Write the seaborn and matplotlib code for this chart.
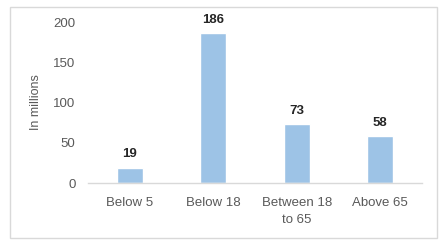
import matplotlib
matplotlib.use("Agg")
import matplotlib.pyplot as plt
import seaborn as sns
import pandas as pd
from matplotlib.patches import Rectangle

categories = ["Below 5", "Below 18", "Between 18\nto 65", "Above 65"]
values = [19, 186, 73, 58]

sns.set_theme(style="white")
plt.rcParams['font.family'] = ['Liberation Sans', 'DejaVu Sans']

W, H = 447, 245
fig = plt.figure(figsize=(W/100, H/100), dpi=100)
ax = fig.add_axes([88/W, 1-183/H, (422-88)/W, (183-22)/H])

df = pd.DataFrame({"cat": categories, "val": values})
sns.barplot(data=df, x="cat", y="val", color="#9DC3E6", width=0.31, ax=ax, saturation=1)

ax.set_ylim(0, 200)
ax.set_yticks([0, 50, 100, 150, 200])
ax.set_xlim(-0.5, 3.5)
ax.set_xlabel("")
ax.set_ylabel("In millions", fontsize=9, color="#595959", labelpad=8)
for s in ["top", "right", "left"]:
    ax.spines[s].set_visible(False)
ax.spines["bottom"].set_color("#D9D9D9")
ax.spines["bottom"].set_linewidth(1)
ax.tick_params(axis="both", length=0, labelsize=9.5, colors="#595959")
ax.tick_params(axis="x", pad=10)
ax.tick_params(axis="y", pad=9)
for lab in ax.get_xticklabels():
    lab.set_linespacing(1.6)

for i, v in enumerate(values):
    ax.text(i, v + 9, str(v), ha="center", va="bottom", fontsize=9.5, fontweight="bold", color="#262626")

fig.patches.append(Rectangle((10/W, 1-238/H), (437-10)/W, (238-7)/H, transform=fig.transFigure,
                             fill=False, edgecolor="#D9D9D9", linewidth=1))

fig.savefig("out.png", dpi=100)
